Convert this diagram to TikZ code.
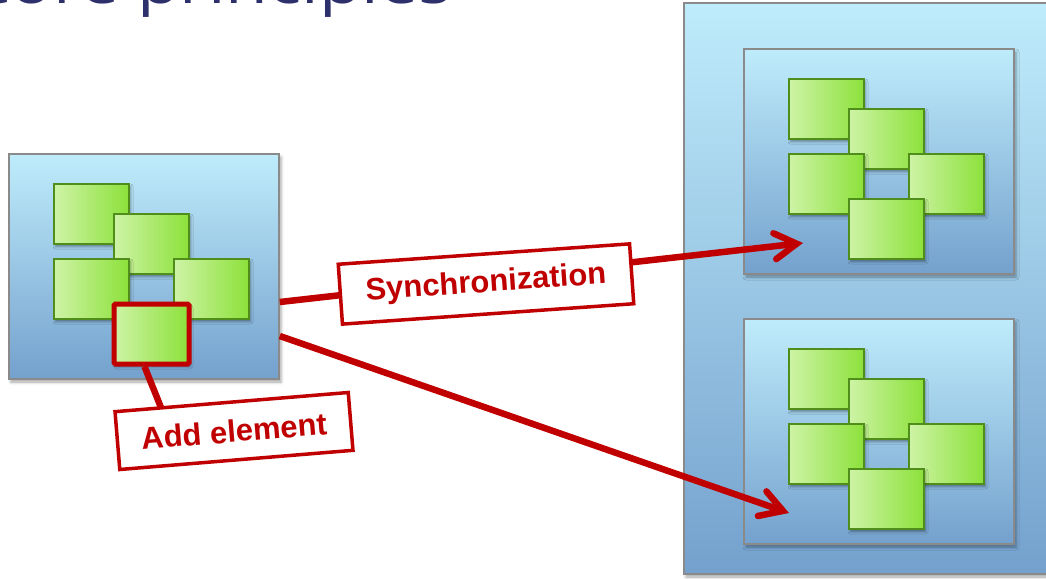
\documentclass[tikz,border=0pt]{standalone}
\usepackage{fontspec}
\setmainfont{Liberation Sans}
\newfontfamily\titlefont{Open Sans}
\usetikzlibrary{arrows.meta,shadows.blur}

\definecolor{skyTop}{RGB}{191,236,251}
\definecolor{skyBot}{RGB}{116,161,205}
\definecolor{frameGray}{RGB}{138,138,138}
\definecolor{leafL}{RGB}{206,243,166}
\definecolor{leafR}{RGB}{140,225,58}
\definecolor{leafEdge}{RGB}{80,142,28}
\definecolor{alertRed}{RGB}{192,0,0}
\definecolor{titleBlue}{RGB}{46,48,108}

\tikzset{
  panel/.style={draw=frameGray, line width=1.6pt, top color=skyTop, bottom color=skyBot,
    inner sep=0pt,
    blur shadow={shadow xshift=2pt, shadow yshift=-3pt, shadow blur radius=3pt, shadow opacity=35}},
  tile/.style={draw=leafEdge, line width=1.5pt, left color=leafL, right color=leafR,
    minimum width=75pt, minimum height=60pt, inner sep=0pt,
    blur shadow={shadow xshift=1.5pt, shadow yshift=-2.5pt, shadow blur radius=2.5pt, shadow opacity=40}},
  tile e/.style={},
  picked/.style={draw=alertRed, line width=5pt, rounded corners=1.5pt},
  conn/.style={draw=alertRed, line width=6.5pt},
  tag/.style={draw=alertRed, line width=3.5pt, fill=white, text=alertRed,
    font=\fontsize{31}{36}\selectfont\bfseries, inner sep=0pt},
  barb/.style={-{Straight Barb[length=22pt, width=26pt, line cap=round]}},
  % one document: a framed panel holding five overlapping elements
  cluster/.pic={
    \node[panel, minimum width=270pt, minimum height=225pt] (-box) at (135,112.5) {};
    \node[tile] (-a) at (82.5,60) {};
    \node[tile] (-b) at (142.5,90) {};
    \node[tile] (-c) at (82.5,135) {};
    \node[tile] (-d) at (202.5,135) {};
    \node[tile, tile e] (-e) at (142.5,180) {};
  }
}

\begin{document}
\begin{tikzpicture}[x=1pt, y=-1pt]
  \useasboundingbox (0,0) rectangle (1046,578);
  \clip (0,0) rectangle (1046,578);

  % slide heading, mostly above the visible area
  \node[anchor=base east, inner sep=0pt, text=titleBlue] (title) at (452,3.5)
    {\titlefont\fontsize{58}{60}\selectfont\scalebox{1.2}[1]{Core principles}};

  % local copy with a newly added element
  \pic[tile e/.style={picked}] (L) at (9,154) {cluster};

  % replicated store with two synchronized copies
  \node[panel, minimum width=368pt, minimum height=571pt] (store) at (868,288.5) {};
  \pic (R1) at (744,49) {cluster};
  \pic (R2) at (744,319) {cluster};

  % connectors
  \coordinate (t1) at (803,243);
  \coordinate (t2) at (789,513);
  \coordinate (af) at (162,410);
  \draw[conn] ([xshift=-7pt]L-e.south) -- (af);
  \draw[conn, barb] ([yshift=-35.5pt]L-box.east) -- (t1);
  \draw[conn, barb] ([yshift=-69.5pt]L-box.east) -- (t2);

  % labels
  \node[tag, rotate=4, minimum width=292pt, minimum height=60pt] (sync) at (486,284) {Synchronization};
  \node[tag, rotate=4.7, minimum width=234pt, minimum height=58pt] (addel) at (234,431) {Add element};
\end{tikzpicture}
\end{document}
